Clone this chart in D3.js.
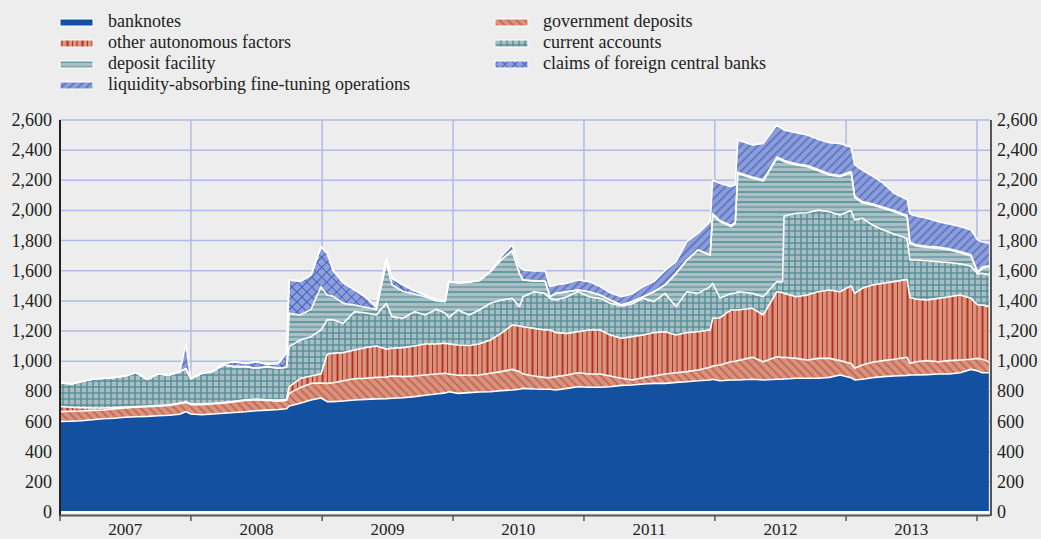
<!DOCTYPE html>
<html>
<head>
<meta charset="utf-8">
<script src="https://cdn.jsdelivr.net/npm/d3@7"></script>
<style>
  body { margin: 0; background: #ecedec; }
  svg { display: block; font-family: "Liberation Serif", "Times New Roman", serif; }
</style>
</head>
<body>
<script>
// weekly-ish readings, EUR billions
const dates = [
  '2007-01-01','2007-02-01','2007-03-01','2007-04-01','2007-05-01','2007-06-01','2007-07-01','2007-08-01','2007-09-01','2007-10-01',
  '2007-11-01','2007-12-01','2007-12-18','2008-01-01','2008-02-01','2008-03-01','2008-04-01','2008-05-01','2008-06-01','2008-07-01',
  '2008-08-01','2008-09-01','2008-09-24','2008-10-01','2008-11-01','2008-12-01','2008-12-29','2009-01-15','2009-02-01','2009-03-01',
  '2009-04-01','2009-05-01','2009-06-01','2009-06-29','2009-07-15','2009-08-15','2009-09-15','2009-10-15','2009-11-15','2009-12-10',
  '2009-12-20','2010-01-15','2010-02-15','2010-03-15','2010-04-15','2010-05-15','2010-06-15','2010-07-05','2010-07-15','2010-08-15',
  '2010-09-15','2010-09-28','2010-10-15','2010-11-15','2010-12-15','2011-01-15','2011-02-15','2011-03-15','2011-04-15','2011-05-15',
  '2011-06-15','2011-07-15','2011-08-15','2011-09-15','2011-10-15','2011-11-15','2011-12-19','2011-12-26','2012-01-15','2012-02-15',
  '2012-02-27','2012-03-05','2012-04-15','2012-05-15','2012-06-22','2012-07-08','2012-07-12','2012-08-15','2012-09-15','2012-10-15',
  '2012-11-15','2012-12-15','2013-01-15','2013-01-25','2013-02-15','2013-03-15','2013-04-15','2013-05-15','2013-06-20','2013-06-28',
  '2013-07-15','2013-08-15','2013-09-15','2013-10-15','2013-11-15','2013-12-15','2014-01-03','2014-01-15','2014-02-03'
];
const banknotes = [
  600,602,605,612,618,622,628,632,634,638, 642,648,666,650,645,650,655,660,665,672,
  676,680,685,703,721,743,756,732,732,736, 743,747,750,752,754,758,765,774,783,790,
  798,787,792,796,798,805,809,814,820,816, 814,814,809,820,831,827,827,831,840,842,
  849,853,853,860,864,871,876,880,871,876, 876,876,880,876,880,880,882,887,887,887,
  893,909,890,876,880,891,898,902,906,909, 909,911,915,915,924,946,936,924,924
];
const govDeposits = [
  66,66,65,62,59,62,62,63,64,64, 64,70,60,62,67,66,67,70,75,72,
  64,55,55,84,104,110,100,121,125,135, 141,140,143,143,148,140,137,135,132,130,
  117,120,115,113,122,126,137,117,95,86, 77,77,89,89,93,88,88,71,47,34,
  42,49,62,64,67,71,84,88,104,121, 124,128,146,121,150,145,144,132,121,132,
  126,95,95,77,95,102,106,111,120,77, 88,93,82,89,84,67,83,89,73
];
const otherFactors = [
  34,27,22,16,13,8,6,5,5,5, 5,5,5,5,5,5,5,5,5,5,
  5,7,8,43,60,49,60,193,196,186, 191,203,208,185,184,192,199,205,199,199,
  200,201,197,205,221,254,294,303,314,316, 316,316,292,276,272,292,292,272,265,287,
  283,288,281,250,259,254,247,317,312,343, 340,336,325,310,431,430,424,409,431,442,
  454,457,515,497,509,513,513,515,517,438, 414,402,420,424,431,404,354,360,365
];
const currentAccounts = [
  160,155,173,190,197,201,206,225,177,208, 198,208,220,168,203,210,248,229,219,204,
  219,211,212,267,256,261,291,228,221,195, 254,232,206,304,210,195,228,193,230,201,
  175,232,203,226,243,221,177,128,199,243, 243,210,216,243,267,221,210,210,214,217,
  243,205,254,188,271,254,288,232,133,110, 110,121,99,121,67,73,513,553,546,542,
  519,509,500,487,464,398,354,316,272,247, 260,260,243,227,207,214,205,210,210
];
const depositFacility = [
  0,0,0,0,0,0,0,0,0,0, 0,0,0,0,0,0,0,0,0,0,
  0,0,0,221,166,181,288,165,156,132, 44,36,37,266,210,177,117,121,56,75,
  238,181,218,195,210,266,316,221,111,72, 80,11,44,33,10,33,22,22,7,15,
  11,66,56,221,210,288,210,453,506,443, 465,785,763,767,818,802,361,321,305,261,
  243,254,250,150,103,132,143,148,144,111, 93,89,89,83,74,67,5,33,55
];
const foreignClaims = [
  0,0,0,0,0,0,0,0,0,0, 0,0,0,0,0,0,10,33,22,44,
  16,33,100,221,223,228,265,277,170,136, 100,70,14,33,44,44,22,11,11,5,
  2,0,0,0,0,0,0,0,0,0, 0,0,0,0,0,0,0,0,0,0,
  0,0,0,0,0,0,0,8,8,8, 8,8,8,8,8,8,8,8,8,8,
  8,8,8,8,8,8,8,8,8,8, 8,8,8,8,8,8,8,8,8
];
const fineTuning = [
  0,0,0,0,0,0,0,0,0,0, 0,0,160,0,0,0,0,0,0,0,
  0,0,0,0,0,0,0,0,0,0, 0,0,0,0,0,0,0,0,0,0,
  0,0,0,0,0,22,38,44,66,65, 68,67,56,56,66,67,56,49,55,51,
  67,67,95,77,122,110,221,224,246,257, 247,213,213,242,213,202,202,206,203,200,
  207,213,162,207,209,185,158,114,106,187, 191,185,169,165,165,165,213,169,147
];

const yTicks = [0, 200, 400, 600, 800, 1000, 1200, 1400, 1600, 1800, 2000, 2200, 2400, 2600];
const years = [2007, 2008, 2009, 2010, 2011, 2012, 2013];

const series = [
  { key: 'banknotes', label: 'banknotes', values: banknotes, fill: '#1350a0' },
  { key: 'gov', label: 'government deposits', values: govDeposits, fill: 'url(#p-gov)' },
  { key: 'other', label: 'other autonomous factors', values: otherFactors, fill: 'url(#p-other)' },
  { key: 'curr', label: 'current accounts', values: currentAccounts, fill: 'url(#p-curr)' },
  { key: 'dep', label: 'deposit facility', values: depositFacility, fill: 'url(#p-dep)' },
  { key: 'claims', label: 'claims of foreign central banks', values: foreignClaims, fill: 'url(#p-claims)' },
  { key: 'fto', label: 'liquidity-absorbing fine-tuning operations', values: fineTuning, fill: 'url(#p-fto)' }
];

const w = 1041, h = 539;
const plotLeft = 60, plotRight = 990, plotTop = 120, plotBottom = 512;

const parse = d3.utcParse('%Y-%m-%d');
const rows = dates.map((d, i) => {
  const row = { date: parse(d) };
  series.forEach(s => { row[s.key] = s.values[i]; });
  return row;
});

const x = d3.scaleUtc()
  .domain([new Date(Date.UTC(2007, 0, 1)), new Date(Date.UTC(2014, 0, 1))])
  .range([plotLeft, 977]);
const y = d3.scaleLinear().domain([0, 2600]).range([plotBottom, plotTop]);

const svg = d3.select('body').append('svg').attr('width', w).attr('height', h);
svg.append('rect').attr('width', w).attr('height', h).attr('fill', '#ecedec');

// hatch patterns
const defs = svg.append('defs');
const mk_pattern = (id, pw, ph, bg, rotate) => {
  const p = defs.append('pattern').attr('id', id)
    .attr('patternUnits', 'userSpaceOnUse')
    .attr('width', pw).attr('height', ph);
  if (rotate) p.attr('patternTransform', `rotate(${rotate})`);
  p.append('rect').attr('width', pw).attr('height', ph).attr('fill', bg);
  return p;
};
const vline = (p, xx, hh, color, sw) => p.append('line').attr('x1', xx).attr('x2', xx).attr('y1', 0).attr('y2', hh).attr('stroke', color).attr('stroke-width', sw);
const hline = (p, yy, ww, color, sw) => p.append('line').attr('x1', 0).attr('x2', ww).attr('y1', yy).attr('y2', yy).attr('stroke', color).attr('stroke-width', sw);

const pGov = mk_pattern('p-gov', 6, 6, '#d8937e', -45);
vline(pGov, 3, 6, '#b23a27', 0.9);

const pOther = mk_pattern('p-other', 15, 4, '#d8937e');
vline(pOther, 2, 4, '#b3321f', 1.1);
vline(pOther, 7.5, 4, '#b3321f', 2);
vline(pOther, 12.5, 4, '#b3321f', 1);

const pCurr = mk_pattern('p-curr', 6, 6, '#a9bec2');
hline(pCurr, 3, 6, '#4d8a95', 1.3);
vline(pCurr, 3, 6, '#4d8a95', 1.3);

const pDep = mk_pattern('p-dep', 4, 10, '#abc0c4');
hline(pDep, 2, 4, '#528f99', 1.6);
hline(pDep, 7, 4, '#528f99', 1.1);

const pClaims = mk_pattern('p-claims', 7, 7, '#8d9ed9', 45);
hline(pClaims, 3.5, 7, '#3b5cc2', 0.9);
vline(pClaims, 3.5, 7, '#3b5cc2', 0.9);

const pFto = mk_pattern('p-fto', 6, 6, '#8c9dd8', 45);
vline(pFto, 3, 6, '#2b4db3', 0.9);

// grid
const grid = svg.append('g').attr('stroke', '#b1bae8').attr('stroke-width', 1.5);
grid.selectAll('line.hy')
  .data(yTicks.filter(t => t > 0))
  .join('line')
  .attr('x1', plotLeft).attr('x2', plotRight)
  .attr('y1', d => y(d)).attr('y2', d => y(d));
grid.selectAll('line.vx')
  .data(d3.range(2008, 2015))
  .join('line')
  .attr('x1', d => x(new Date(Date.UTC(d, 0, 1)))).attr('x2', d => x(new Date(Date.UTC(d, 0, 1))))
  .attr('y1', plotTop).attr('y2', plotBottom);

// stacked areas
const stacked = d3.stack().keys(series.map(s => s.key))(rows);
const area = d3.area()
  .x(d => x(d.data.date))
  .y0(d => y(d[0]))
  .y1(d => y(d[1]));
const topLine = d3.line()
  .x(d => x(d.data.date))
  .y(d => y(d[1]));

svg.append('g')
  .selectAll('path')
  .data(stacked)
  .join('path')
  .attr('fill', (d, i) => series[i].fill)
  .attr('d', area);

svg.append('g')
  .selectAll('path')
  .data(stacked)
  .join('path')
  .attr('fill', 'none')
  .attr('stroke', '#fff')
  .attr('stroke-width', 1.6)
  .attr('stroke-linejoin', 'round')
  .attr('d', topLine);

svg.append('line')
  .attr('x1', plotLeft).attr('x2', x(rows.at(-1).date))
  .attr('y1', plotBottom).attr('y2', plotBottom)
  .attr('stroke', '#fff').attr('stroke-width', 2);

// axes
svg.append('line')
  .attr('x1', plotLeft).attr('x2', plotLeft)
  .attr('y1', plotTop).attr('y2', 516)
  .attr('stroke', '#222').attr('stroke-width', 2);
svg.append('line')
  .attr('x1', plotRight + 1).attr('x2', plotRight + 1)
  .attr('y1', plotTop).attr('y2', 516)
  .attr('stroke', '#222').attr('stroke-width', 1.5);
svg.append('line')
  .attr('x1', plotLeft).attr('x2', plotRight)
  .attr('y1', 515.5).attr('y2', 515.5)
  .attr('stroke', '#555').attr('stroke-width', 2);
svg.append('g')
  .selectAll('line')
  .data(d3.range(2007, 2015))
  .join('line')
  .attr('x1', d => x(new Date(Date.UTC(d, 0, 1)))).attr('x2', d => x(new Date(Date.UTC(d, 0, 1))))
  .attr('y1', 515).attr('y2', 521)
  .attr('stroke', '#555').attr('stroke-width', 1.5);

const fmt = d3.format(',');
svg.append('g')
  .selectAll('text')
  .data(yTicks)
  .join('text')
  .attr('x', 52).attr('y', d => y(d) + 6)
  .attr('text-anchor', 'end')
  .attr('font-size', 18).attr('fill', '#222')
  .text(d => fmt(d));
svg.append('g')
  .selectAll('text')
  .data(yTicks)
  .join('text')
  .attr('x', 997).attr('y', d => y(d) + 6)
  .attr('font-size', 18).attr('fill', '#222')
  .text(d => fmt(d));
svg.append('g')
  .selectAll('text')
  .data(years)
  .join('text')
  .attr('x', d => x(new Date(Date.UTC(d, 6, 2))))
  .attr('y', 535)
  .attr('text-anchor', 'middle')
  .attr('font-size', 17).attr('fill', '#222')
  .text(d => d);

// legend
const legendOrder = [
  ['banknotes', 0, 0], ['other', 0, 1], ['dep', 0, 2], ['fto', 0, 3],
  ['gov', 1, 0], ['curr', 1, 1], ['claims', 1, 2]
];
const legend = svg.append('g');
legendOrder.forEach(([key, col, row]) => {
  const s = series.find(v => v.key === key);
  const lx = col === 0 ? 60 : 495;
  const ly = 27 + row * 21;
  legend.append('rect')
    .attr('x', lx).attr('y', ly - 8).attr('width', 33).attr('height', 7)
    .attr('fill', s.fill).attr('stroke', '#fff').attr('stroke-width', 1);
  legend.append('text')
    .attr('x', lx + 48).attr('y', ly)
    .attr('font-size', 18).attr('fill', '#222')
    .text(s.label);
});
</script>
</body>
</html>
